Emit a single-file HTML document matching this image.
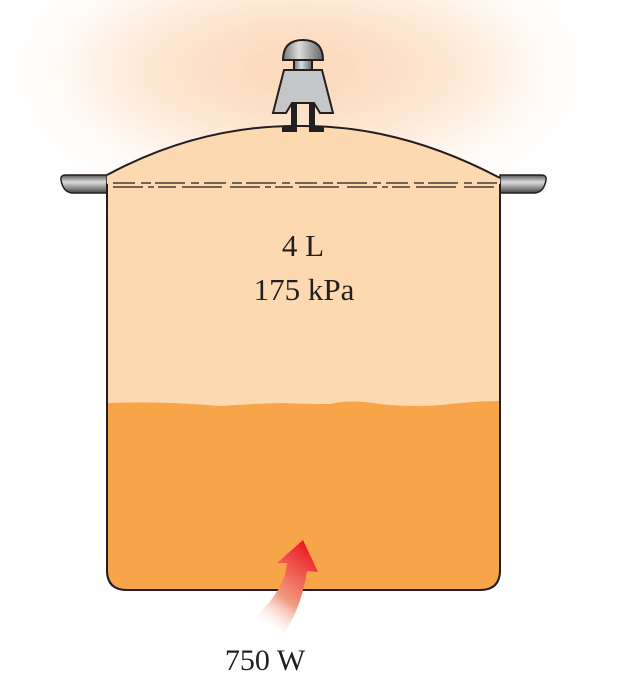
<!DOCTYPE html>
<html><head><meta charset="utf-8"><style>
html,body{margin:0;padding:0;background:#fff;width:620px;height:694px;overflow:hidden}
svg{display:block}
text{font-family:"Liberation Serif",serif;fill:#231f20}
</style></head><body>
<svg width="620" height="694" viewBox="0 0 620 694">
<defs>
<radialGradient id="glow" cx="0.5" cy="0.5" r="0.5">
<stop offset="0" stop-color="#fbd3b0" stop-opacity="1"/>
<stop offset="0.6" stop-color="#fde2c9" stop-opacity="0.8"/>
<stop offset="1" stop-color="#fff" stop-opacity="0"/>
</radialGradient>
<linearGradient id="metal" x1="0" y1="0" x2="0" y2="1">
<stop offset="0" stop-color="#555"/><stop offset="0.4" stop-color="#ddd"/><stop offset="1" stop-color="#444"/>
</linearGradient>
<linearGradient id="dome" x1="0" y1="0" x2="1" y2="0">
<stop offset="0" stop-color="#777"/><stop offset="0.4" stop-color="#ddd"/><stop offset="1" stop-color="#666"/>
</linearGradient>
<linearGradient id="arrowg" x1="0.2" y1="1" x2="0.7" y2="0">
<stop offset="0" stop-color="#fff" stop-opacity="0"/>
<stop offset="0.4" stop-color="#f29a80"/>
<stop offset="1" stop-color="#ec1c24"/>
</linearGradient>
<filter id="blur"><feGaussianBlur stdDeviation="28"/></filter>
</defs>
<ellipse cx="300" cy="70" rx="300" ry="130" fill="url(#glow)" filter="url(#blur)"/>
<path d="M107,175 L66,175 Q60,175 61,180 Q63,192 72,193 L107,193 Z" fill="url(#metal)" stroke="#231f20" stroke-width="1.5"/>
<path d="M500,175 L541,175 Q547,175 546,180 Q544,192 535,193 L500,193 Z" fill="url(#metal)" stroke="#231f20" stroke-width="1.5"/>
<path d="M107,183 L107,570 Q107,590 127,590 L480,590 Q500,590 500,570 L500,183 Z" fill="#fdd9b1" stroke="#231f20" stroke-width="2"/>
<path d="M108,403 Q160,401 220,406 Q250,404 280,403 Q310,404 330,404 Q350,399 380,404 Q420,408 450,404 Q480,401 499,401 L499,570 Q499,589 480,589 L127,589 Q108,589 108,570 Z" fill="#f8a549"/>
<path d="M107,183 L107,570 Q107,590 127,590 L480,590 Q500,590 500,570 L500,183" fill="none" stroke="#231f20" stroke-width="2"/>
<path d="M107,175 Q200,125 300,126 Q400,125 500,178 L500,184 L107,184 Z" fill="#fdd9b1"/>
<path d="M107,175 Q200,125 300,126 Q400,125 500,178" fill="none" stroke="#231f20" stroke-width="2"/>
<path d="M113,183 L497,183" stroke="#231f20" stroke-width="1.2" stroke-dasharray="22,6,10,4,30,6,8,5"/>
<path d="M113,187 L497,187" stroke="#231f20" stroke-width="1.2" stroke-dasharray="30,5,6,4,18,6,40,8"/>
<g stroke="#231f20" stroke-width="2">
<path d="M283,60 Q283,40 303,40 Q323,40 323,60 Z" fill="url(#dome)"/>
<rect x="294" y="60" width="18" height="10" fill="url(#dome)"/>
<path d="M284,70 L322,70 L333,113 L320,113 L314,103 L292,103 L286,113 L273,113 Z" fill="#c4c6c8"/>
<path d="M292,103 L292,128 L283,128 L283,131 L296,131 L296,103" fill="#231f20"/>
<path d="M314,103 L314,128 L323,128 L323,131 L310,131 L310,103" fill="#231f20"/>
</g>
<text x="303" y="256" font-size="31" text-anchor="middle">4 L</text>
<text x="304" y="300" font-size="31" text-anchor="middle">175 kPa</text>
<path d="M255,617 Q285,590 287,563 L277,563 L303,540 L318,572 L307,571 Q302,605 285,632 Z" fill="url(#arrowg)"/>
<text x="265" y="670" font-size="30" text-anchor="middle">750 W</text>
</svg>
</body></html>
